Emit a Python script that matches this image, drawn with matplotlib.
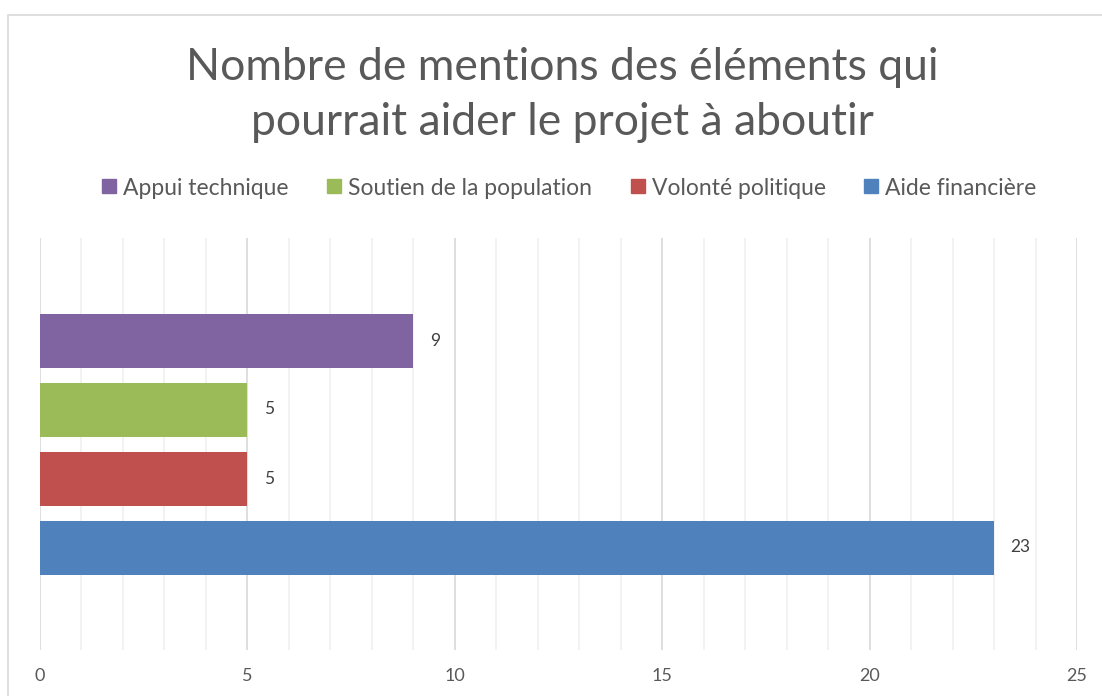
import matplotlib
import numpy as np
from matplotlib import pyplot as plt
from matplotlib.patches import Rectangle
from matplotlib.lines import Line2D

matplotlib.rcParams.update({'font.family': ['Lato', 'DejaVu Sans']})

## Data
series = ["Appui technique", "Soutien de la population", "Volonté politique", "Aide financière"]
values = [9, 5, 5, 23]
colors = ["#8064a2", "#9bbb59", "#c0504d", "#4f81bd"]
title = "Nombre de mentions des éléments qui\npourrait aider le projet à aboutir"

W, H = 1102, 696
fig = plt.figure(figsize=(W / 100, H / 100), dpi=100)

# chart frame (Excel-like border)
fig.patches.append(Rectangle((8 / W, -0.1), 1.2, 1 - 15 / H + 0.1, transform=fig.transFigure,
                             fill=False, edgecolor="#d9d9d9", linewidth=1.2))

ax = fig.add_axes([40 / W, 46 / H, (1077 - 40) / W, (650 - 238) / H])

ypos = np.arange(len(values))
ax.barh(ypos, values, height=54 / 69, color=colors, zorder=3)
for y, v in zip(ypos, values):
    ax.text(v + 0.4, y, str(v), va="center", ha="left", fontsize=12.5, color="#404040")

half = (650 - 238) / 69 / 2
ax.set_ylim(1.5 + half, 1.5 - half)
ax.set_xlim(0, 25)
ax.set_xticks(range(0, 26, 5))
ax.set_xticks(range(0, 26), minor=True)
ax.set_yticks([])
ax.grid(axis="x", which="major", color="#d9d9d9", linewidth=1.2, zorder=0)
ax.grid(axis="x", which="minor", color="#f0f0f0", linewidth=1.2, zorder=0)
for s in ax.spines.values():
    s.set_visible(False)
ax.tick_params(axis="x", which="both", length=0, pad=13, labelsize=13, labelcolor="#595959")

fig.text(562 / W, 1 - 95 / H, title, ha="center", va="center", fontsize=32,
         color="#595959", linespacing=1.4)

handles = [Line2D([], [], marker="s", linestyle="none", markersize=10, color=c) for c in colors]
fig.legend(handles, series, loc="center", bbox_to_anchor=(567 / W, 1 - 188 / H), ncol=4,
           frameon=False, fontsize=16.5, labelcolor="#595959", handletextpad=0.1,
           columnspacing=1.5, handlelength=1.0)

fig.savefig("out.png", dpi=100, facecolor="white")
